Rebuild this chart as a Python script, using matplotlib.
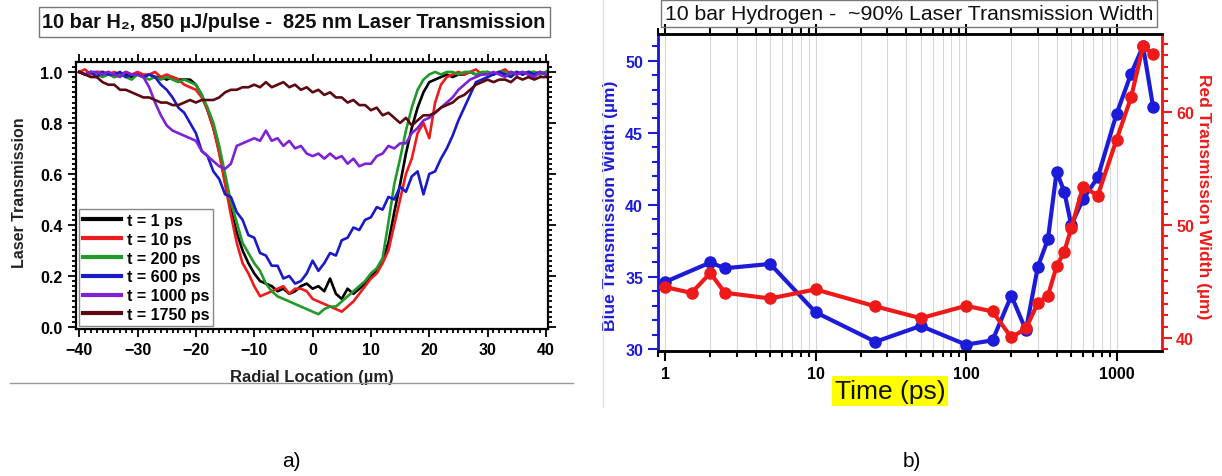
import numpy as np
import matplotlib
matplotlib.use('Agg')
import matplotlib.pyplot as plt
from matplotlib.patches import Rectangle
from matplotlib.lines import Line2D
from matplotlib.ticker import MultipleLocator, LogLocator, NullFormatter, FixedLocator

plt.rcParams['font.family'] = ['Liberation Sans', 'DejaVu Sans']

# ---- panel a) : transmission profiles ----
radial = list(range(-40, 41))

t1 = [1.00, 0.99, 1.00, 0.99, 0.99, 1.00, 0.98, 0.99, 0.99, 0.98,
      0.99, 0.98, 0.99, 0.98, 0.98, 0.97, 0.98, 0.97, 0.97, 0.97,
      0.95, 0.91, 0.85, 0.78, 0.69, 0.57, 0.46, 0.37, 0.30, 0.25,
      0.21, 0.18, 0.17, 0.16, 0.14, 0.15, 0.13, 0.14, 0.16, 0.17,
      0.15, 0.16, 0.14, 0.19, 0.13, 0.11, 0.15, 0.13, 0.15, 0.17,
      0.20, 0.22, 0.26, 0.33, 0.45, 0.56, 0.68, 0.78, 0.86, 0.92,
      0.96, 0.97, 0.98, 0.99, 0.98, 0.99, 0.99, 1.00, 0.99, 0.99,
      1.00, 0.99, 1.00, 0.99, 1.00, 0.99, 1.00, 0.99, 1.00, 0.99, 1.00]

t10 = [1.00, 1.01, 0.99, 1.00, 1.00, 0.99, 1.00, 0.99, 1.00, 0.99,
       1.00, 0.99, 0.99, 1.00, 0.98, 0.99, 0.98, 0.97, 0.95, 0.94,
       0.93, 0.90, 0.85, 0.78, 0.68, 0.56, 0.44, 0.33, 0.25, 0.21,
       0.16, 0.12, 0.13, 0.14, 0.15, 0.16, 0.13, 0.15, 0.15, 0.14,
       0.11, 0.10, 0.09, 0.08, 0.07, 0.06, 0.08, 0.10, 0.13, 0.16,
       0.19, 0.21, 0.25, 0.30, 0.40, 0.50, 0.60, 0.66, 0.76, 0.80,
       0.74, 0.88, 0.95, 0.98, 0.99, 1.00, 0.99, 1.00, 1.01, 0.99,
       1.00, 0.99, 1.00, 1.01, 0.99, 1.00, 0.99, 1.00, 0.99, 1.00, 0.99]

t200 = [1.00, 0.99, 1.00, 0.99, 0.98, 0.99, 0.98, 0.99, 0.98, 0.97,
        0.99, 0.98, 0.97, 0.98, 0.97, 0.98, 0.97, 0.96, 0.97, 0.96,
        0.95, 0.91, 0.86, 0.80, 0.71, 0.60, 0.49, 0.41, 0.33, 0.29,
        0.25, 0.22, 0.17, 0.14, 0.12, 0.11, 0.10, 0.09, 0.08, 0.07,
        0.06, 0.05, 0.07, 0.08, 0.08, 0.10, 0.12, 0.14, 0.16, 0.18,
        0.21, 0.23, 0.27, 0.41, 0.56, 0.66, 0.77, 0.86, 0.93, 0.97,
        0.99, 1.00, 0.99, 1.00, 1.00, 0.99, 1.00, 1.00, 0.99, 1.00,
        1.00, 0.99, 1.00, 1.00, 0.99, 1.00, 0.99, 1.00, 1.00, 0.99, 1.00]

t600 = [1.00, 0.99, 1.00, 0.98, 1.00, 0.99, 0.99, 1.00, 0.98, 0.99,
        0.99, 0.98, 0.99, 0.98, 0.95, 0.93, 0.90, 0.86, 0.84, 0.80,
        0.76, 0.69, 0.67, 0.61, 0.58, 0.52, 0.51, 0.45, 0.42, 0.36,
        0.35, 0.29, 0.28, 0.24, 0.24, 0.19, 0.20, 0.17, 0.18, 0.21,
        0.26, 0.22, 0.25, 0.29, 0.28, 0.34, 0.35, 0.39, 0.38, 0.42,
        0.43, 0.47, 0.46, 0.51, 0.50, 0.55, 0.53, 0.59, 0.61, 0.52,
        0.60, 0.61, 0.66, 0.70, 0.75, 0.81, 0.86, 0.91, 0.96, 0.97,
        0.98, 0.99, 1.00, 0.99, 0.98, 1.00, 0.99, 1.00, 0.99, 1.00, 0.99]

t1000 = [1.00, 0.99, 1.00, 1.00, 0.99, 1.00, 0.99, 0.98, 1.00, 0.99,
         0.99, 0.98, 0.94, 0.88, 0.83, 0.79, 0.77, 0.76, 0.75, 0.74,
         0.73, 0.69, 0.67, 0.65, 0.63, 0.62, 0.64, 0.71, 0.72, 0.73,
         0.74, 0.73, 0.77, 0.73, 0.74, 0.71, 0.73, 0.70, 0.71, 0.68,
         0.67, 0.68, 0.66, 0.68, 0.66, 0.67, 0.64, 0.66, 0.63, 0.64,
         0.64, 0.67, 0.68, 0.71, 0.70, 0.72, 0.72, 0.76, 0.78, 0.81,
         0.82, 0.84, 0.86, 0.88, 0.90, 0.93, 0.95, 0.97, 0.98, 0.99,
         0.99, 1.00, 0.99, 0.98, 1.00, 0.99, 1.00, 0.99, 0.98, 1.00, 0.99]

t1750 = [1.00, 0.99, 0.98, 0.98, 0.96, 0.95, 0.95, 0.93, 0.93, 0.92,
         0.91, 0.90, 0.90, 0.89, 0.88, 0.88, 0.87, 0.87, 0.88, 0.89,
         0.88, 0.89, 0.89, 0.89, 0.90, 0.92, 0.93, 0.93, 0.94, 0.94,
         0.95, 0.94, 0.96, 0.94, 0.95, 0.96, 0.94, 0.95, 0.93, 0.94,
         0.92, 0.93, 0.91, 0.92, 0.90, 0.90, 0.88, 0.89, 0.87, 0.87,
         0.85, 0.86, 0.83, 0.84, 0.82, 0.80, 0.82, 0.79, 0.81, 0.83,
         0.83, 0.84, 0.86, 0.87, 0.88, 0.90, 0.91, 0.93, 0.95, 0.96,
         0.97, 0.96, 0.97, 0.97, 0.96, 0.98, 0.97, 0.98, 0.97, 0.98, 0.98]

profile_labels = ['t = 1 ps', 't = 10 ps', 't = 200 ps', 't = 600 ps',
                  't = 1000 ps', 't = 1750 ps']
profile_colors = ['#000000', '#ee1c1c', '#22992a', '#1a1ac8', '#7d22d6', '#5a0a10']

# ---- panel b) : 90% transmission width vs time ----
time_blue = [1, 2, 2.5, 5, 10, 25, 50, 100, 150, 200, 250, 300, 350, 400,
             450, 500, 600, 750, 1000, 1250, 1500, 1750]
width_blue = [34.65, 36.0, 35.6, 35.9, 32.55, 30.5, 31.6, 30.3, 30.6, 33.7,
              31.3, 35.7, 37.6, 42.3, 40.9, 38.6, 40.4, 41.9, 46.3, 49.1,
              51.0, 46.8]
time_red = [1, 1.5, 2, 2.5, 5, 10, 25, 50, 100, 150, 200, 250, 300, 350,
            400, 450, 500, 600, 750, 1000, 1250, 1500, 1750]
width_red = [44.5, 44.0, 45.75, 44.0, 43.5, 44.3, 42.8, 41.75, 42.85, 42.35,
             40.05, 40.85, 43.1, 43.75, 46.35, 47.65, 49.7, 53.4, 52.6,
             57.55, 61.3, 65.8, 65.1]

W, H = 1222, 477
fig = plt.figure(figsize=(W / 100, H / 100), dpi=100)


def fx(px):
    return px / W


def fy(py):
    return 1 - py / H


# ---------- panel a ----------
axa = fig.add_axes([fx(75.7), fy(330), fx(548 - 75.7), (330 - 63) / H])
series = [t1, t10, t200, t600, t1000, t1750]
for vals, lab, col in zip(series, profile_labels, profile_colors):
    axa.plot(radial, vals, color=col, lw=1.9, label=lab)

axa.set_xlim(-40.6, 40.35)
axa.set_ylim(-0.008, 1.039)
axa.xaxis.set_major_locator(MultipleLocator(10))
axa.xaxis.set_minor_locator(MultipleLocator(1))
axa.yaxis.set_major_locator(FixedLocator([0.0, 0.2, 0.4, 0.6, 0.8, 1.0]))
axa.yaxis.set_minor_locator(MultipleLocator(0.02))
axa.set_yticklabels(['0.0', '0.2', '0.4', '0.6', '0.8', '1.0'])
axa.tick_params(which='both', direction='out', top=True, right=True,
                width=1.3, labelsize=11.5)
axa.tick_params(which='major', length=6)
axa.tick_params(which='minor', length=3)
for lab in axa.get_xticklabels() + axa.get_yticklabels():
    lab.set_fontweight('bold')
for sp in axa.spines.values():
    sp.set_linewidth(1.6)
axa.set_xlabel('Radial Location (µm)', fontsize=12, fontweight='bold', color='#222222')
axa.set_ylabel('Laser Transmission', fontsize=11.5, fontweight='bold', color='#222222')
axa.xaxis.set_label_coords(0.5, -0.15)
axa.yaxis.set_label_coords(-0.104, 0.513)

leg = axa.legend(loc='lower left', bbox_to_anchor=(0.007, 0.011), borderaxespad=0,
                 fancybox=False, framealpha=1, edgecolor='#888888',
                 prop={'weight': 'bold', 'size': 11.5}, handlelength=2.4,
                 handletextpad=0.35, labelspacing=0.24, borderpad=0.25)
for h in leg.get_lines():
    h.set_linewidth(3)

# title box a
fig.patches.append(Rectangle((fx(38.6), fy(38)), fx(550 - 38.6), 30 / H,
                             transform=fig.transFigure, fill=False,
                             edgecolor='#777777', lw=1))
fig.text(fx(294), fy(23), '10 bar H₂, 850 µJ/pulse -  825 nm Laser Transmission',
         ha='center', va='center', fontsize=14.4, fontweight='bold', color='#111111')

# ---------- panel b ----------
axb = fig.add_axes([fx(657.7), fy(352), fx(1161.5 - 657.7), (352 - 35) / H])
axr = axb.twinx()
blue = '#1c1cd8'
red = '#ee1a1a'

axb.set_xscale('log')
axb.plot(time_blue, width_blue, color=blue, lw=3, marker='o', ms=8, zorder=3)
axr.plot(time_red, width_red, color=red, lw=3, marker='o', ms=8, zorder=3)

axb.set_xlim(0.894, 1990)
axb.set_ylim(29.86, 51.85)
axr.set_ylim(38.85, 66.9)

axb.xaxis.set_major_locator(LogLocator(base=10, numticks=10))
axb.xaxis.set_minor_locator(LogLocator(base=10, subs=np.arange(2, 10), numticks=20))
axb.xaxis.set_minor_formatter(NullFormatter())
axb.set_xticks([1, 10, 100, 1000])
axb.set_xticklabels(['1', '10', '100', '1000'])
axb.grid(True, which='both', axis='x', color='#d8d8d8', lw=0.8)

axb.yaxis.set_major_locator(MultipleLocator(5))
axb.yaxis.set_minor_locator(MultipleLocator(1))
axr.yaxis.set_major_locator(MultipleLocator(10))
axr.yaxis.set_minor_locator(MultipleLocator(1))

axb.tick_params(axis='x', which='both', direction='out', top=True, width=1.5,
                labelsize=11.5, colors='black')
axb.tick_params(axis='x', which='major', length=7)
axb.tick_params(axis='x', which='minor', length=4)
axb.tick_params(axis='y', which='both', direction='out', colors=blue, width=1.5,
                labelsize=11.5)
axb.tick_params(axis='y', which='major', length=7)
axb.tick_params(axis='y', which='minor', length=4)
axr.tick_params(axis='y', which='both', direction='out', colors=red, width=1.5,
                labelsize=11.5)
axr.tick_params(axis='y', which='major', length=7)
axr.tick_params(axis='y', which='minor', length=4)
for lab in axb.get_xticklabels() + axb.get_yticklabels() + axr.get_yticklabels():
    lab.set_fontweight('bold')

for a in (axb, axr):
    for sp in a.spines.values():
        sp.set_linewidth(1.8)
axb.spines['left'].set_color(blue)
axr.spines['left'].set_color(blue)
axr.spines['right'].set_color(red)
axb.spines['right'].set_color(red)

axb.set_ylabel('Blue Transmission Width (µm)', color=blue, fontsize=12.5,
               fontweight='bold')
axb.yaxis.set_label_coords(-0.079, 0.46)
axr.set_ylabel('Red Transmission Width (µm)', color=red, fontsize=12.5,
               fontweight='bold', rotation=270)
axr.yaxis.set_label_coords(1.098, 0.49)

fig.patches.append(Rectangle((fx(661), fy(28)), fx(1157 - 661), 27 / H,
                             transform=fig.transFigure, fill=False,
                             edgecolor='#777777', lw=1))
fig.text(fx(909), fy(15), '10 bar Hydrogen -  ~90% Laser Transmission Width',
         ha='center', va='center', fontsize=15.3, color='#111111')

fig.text(fx(890), fy(392), 'Time (ps)', ha='center', va='center', fontsize=19,
         color='#111111',
         bbox=dict(boxstyle='square,pad=0.1', facecolor='#ffff00', edgecolor='none'))

# separators and panel letters
fig.add_artist(Line2D([fx(10), fx(573)], [fy(384), fy(384)], color='#999999', lw=1))
fig.add_artist(Line2D([fx(602.7), fx(602.7)], [fy(0), fy(408)], color='#e2e2e2', lw=1))
fig.text(fx(291), fy(462), 'a)', ha='center', va='center', fontsize=15)
fig.text(fx(912), fy(462), 'b)', ha='center', va='center', fontsize=15)

fig.savefig('out.png', dpi=100)
